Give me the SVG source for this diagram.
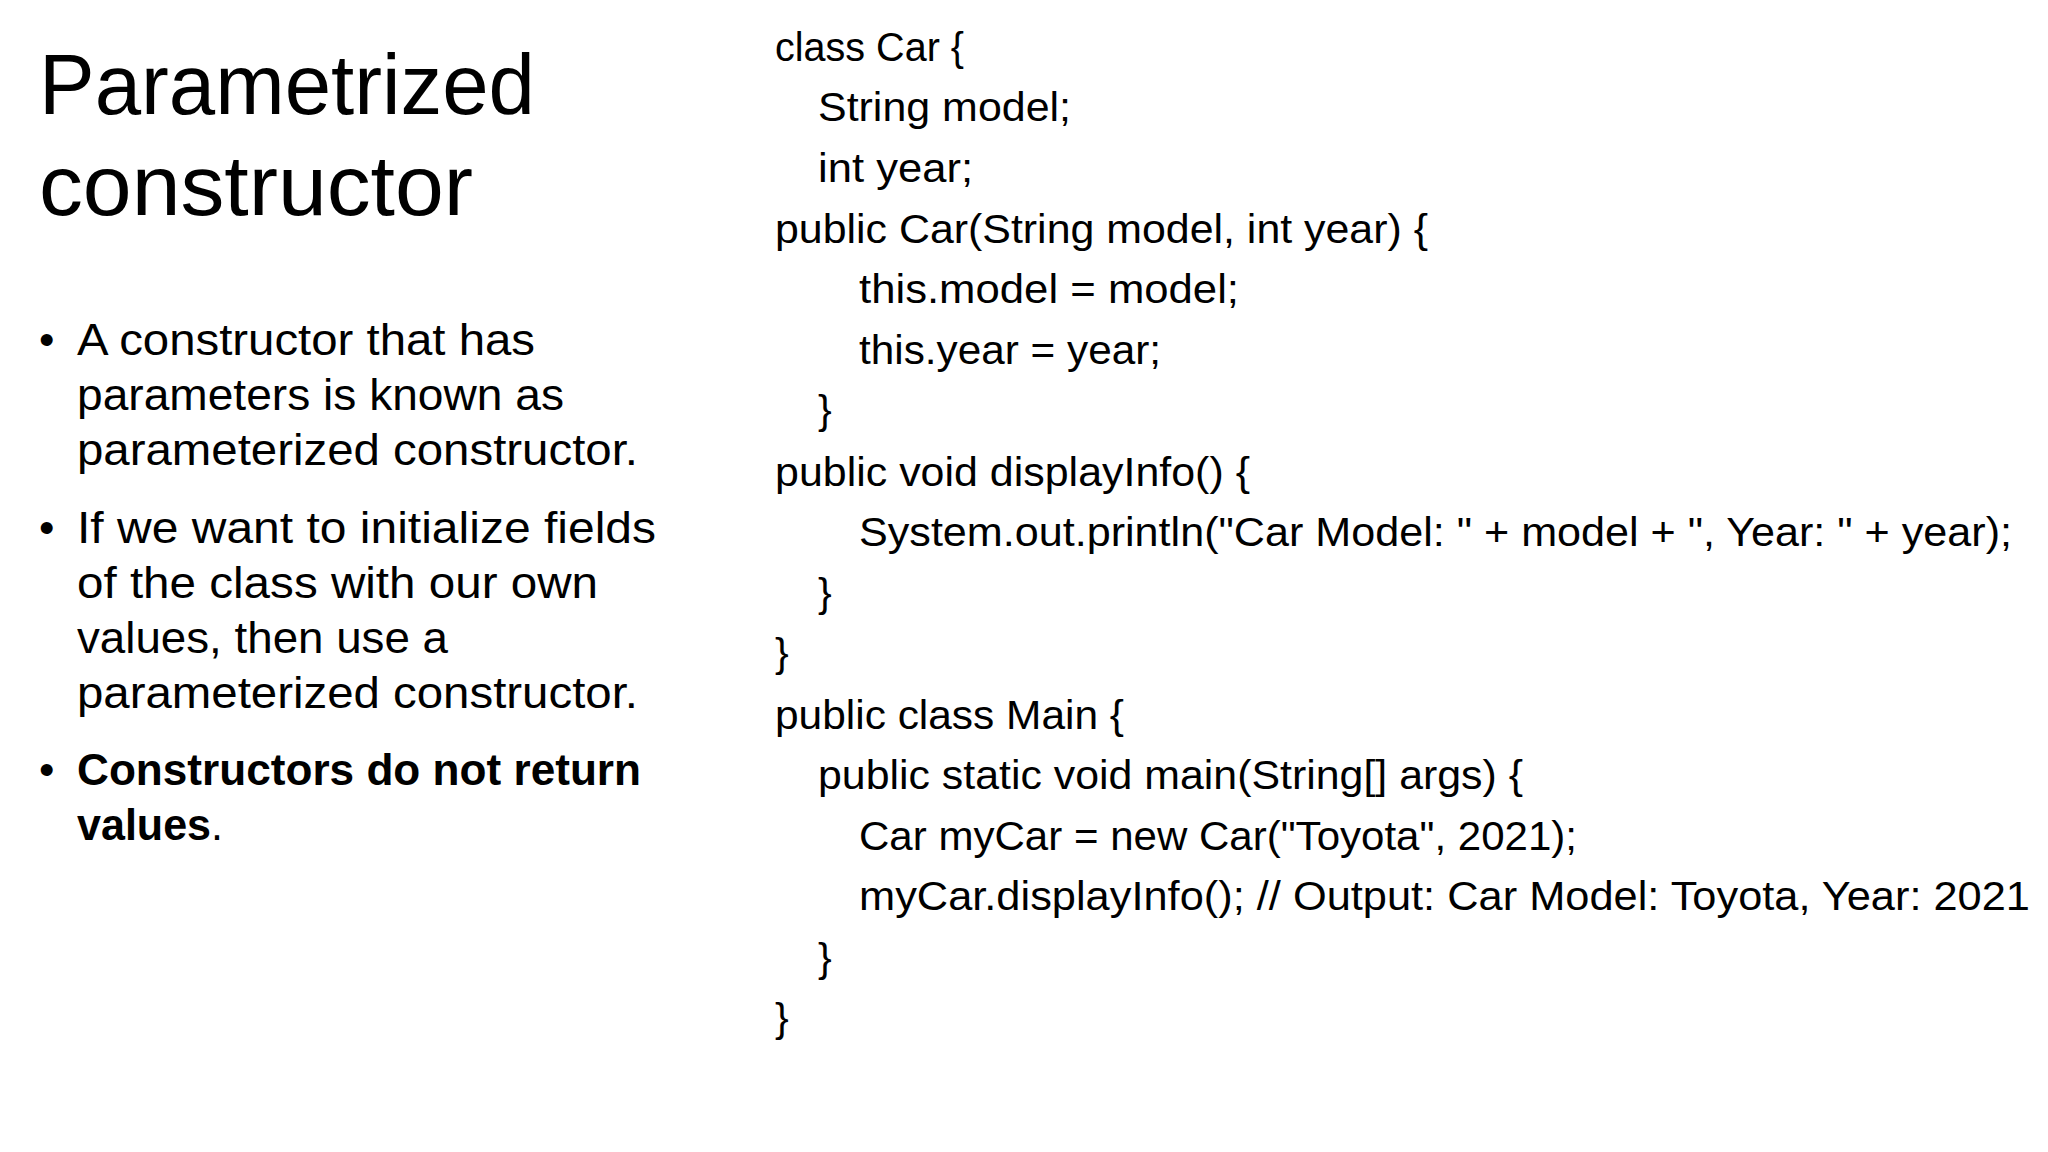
<svg xmlns="http://www.w3.org/2000/svg" width="2048" height="1152" viewBox="0 0 2048 1152">
<style>
.t{font-family:"Liberation Sans","Open Sans",sans-serif;fill:#000}
.ti{font-size:86px}
.b{font-size:44px}
.c{font-size:41px}
</style>
<rect width="2048" height="1152" fill="#fff"/>
<g id="title" class="t ti">
<text x="39" y="114" textLength="496" lengthAdjust="spacingAndGlyphs">Parametrized</text>
<text x="39" y="215" textLength="434" lengthAdjust="spacingAndGlyphs">constructor</text>
</g>
<g id="bullets" class="t b">
<text x="39" y="355">•</text>
<text x="77" y="355" textLength="458" lengthAdjust="spacingAndGlyphs">A constructor that has</text>
<text x="77" y="410" textLength="487" lengthAdjust="spacingAndGlyphs">parameters is known as</text>
<text x="77" y="465" textLength="561" lengthAdjust="spacingAndGlyphs">parameterized constructor.</text>
<text x="39" y="543">•</text>
<text x="77" y="543" textLength="579" lengthAdjust="spacingAndGlyphs">If we want to initialize fields</text>
<text x="77" y="598" textLength="521" lengthAdjust="spacingAndGlyphs">of the class with our own</text>
<text x="77" y="653" textLength="371" lengthAdjust="spacingAndGlyphs">values, then use a</text>
<text x="77" y="708" textLength="561" lengthAdjust="spacingAndGlyphs">parameterized constructor.</text>
<text x="39" y="785">•</text>
<text x="77" y="785" font-weight="bold" textLength="564" lengthAdjust="spacingAndGlyphs">Constructors do not return</text>
<text x="77" y="840" textLength="146" lengthAdjust="spacingAndGlyphs"><tspan font-weight="bold">values</tspan>.</text>
</g>
<g id="code" class="t c" xml:space="preserve">
<text x="775" y="61" textLength="189" lengthAdjust="spacingAndGlyphs">class Car {</text>
<text x="818" y="121" textLength="253" lengthAdjust="spacingAndGlyphs">String model;</text>
<text x="818" y="182" textLength="155" lengthAdjust="spacingAndGlyphs">int year;</text>
<text x="775" y="243" textLength="653" lengthAdjust="spacingAndGlyphs">public Car(String model, int year) {</text>
<text x="859" y="303" textLength="380" lengthAdjust="spacingAndGlyphs">this.model = model;</text>
<text x="859" y="364" textLength="302" lengthAdjust="spacingAndGlyphs">this.year = year;</text>
<text x="818" y="424">}</text>
<text x="775" y="486" textLength="475" lengthAdjust="spacingAndGlyphs">public void displayInfo() {</text>
<text x="859" y="546" textLength="1153" lengthAdjust="spacingAndGlyphs">System.out.println("Car Model: " + model + ", Year: " + year);</text>
<text x="818" y="607">}</text>
<text x="775" y="667">}</text>
<text x="775" y="729" textLength="349" lengthAdjust="spacingAndGlyphs">public class Main {</text>
<text x="818" y="789" textLength="705" lengthAdjust="spacingAndGlyphs">public static void main(String[] args) {</text>
<text x="859" y="850" textLength="718" lengthAdjust="spacingAndGlyphs">Car myCar = new Car("Toyota", 2021);</text>
<text x="859" y="910" textLength="1171" lengthAdjust="spacingAndGlyphs">myCar.displayInfo();  // Output: Car Model: Toyota, Year: 2021</text>
<text x="818" y="972">}</text>
<text x="775" y="1032">}</text>
</g>
</svg>
